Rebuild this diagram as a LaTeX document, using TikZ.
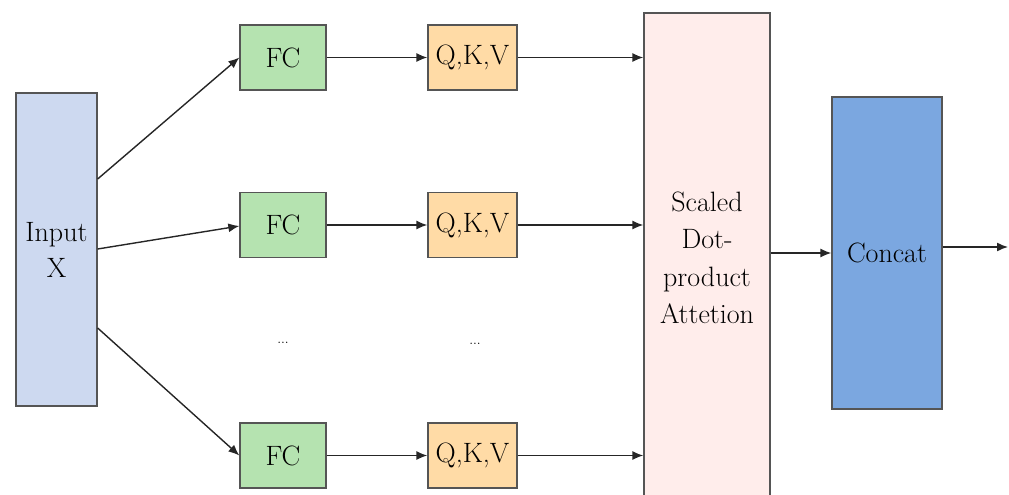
\documentclass[tikz,border=0pt]{standalone}
\usepackage{tikz}
\usetikzlibrary{arrows.meta,positioning,calc}

\definecolor{inblue}{HTML}{CDD9F0}
\definecolor{fcgreen}{HTML}{B5E3B0}
\definecolor{qkvorange}{HTML}{FFDBA6}
\definecolor{attpink}{HTML}{FFEDEB}
\definecolor{catblue}{HTML}{7BA7E0}
\definecolor{edgegray}{HTML}{555555}

\begin{document}
\begin{tikzpicture}[x=1pt,y=-1pt,
  box/.style={draw=edgegray,line width=1.3pt,inner sep=0pt,align=center,
    font=\fontsize{28}{36}\selectfont},
  fcbox/.style={box,fill=fcgreen,minimum width=86pt,minimum height=65pt},
  qkvbox/.style={box,fill=qkvorange,minimum width=89pt,minimum height=65pt},
  link/.style={line width=1.4pt,draw=black!85,-{Latex[length=11pt,width=9pt]}}]
  \clip (0,0) rectangle (1009,495);

  \node[box,fill=inblue,minimum width=81pt,minimum height=313pt] (inp) at (56.5,249.5) {Input\\X};
  \node[box,fill=attpink,minimum width=126pt,minimum height=490pt,
    font=\fontsize{28}{37.5}\selectfont] (att) at (707,258) {Scaled\\Dot-\\product\\Attetion};
  \node[box,fill=catblue,minimum width=110pt,minimum height=312pt] (cat) at (887,253) {Concat};

  % three heads
  \foreach \i/\y in {1/57.5,2/225,3/455.5} {
    \node[fcbox] (fc\i) at (283,\y) {FC};
    \node[qkvbox] (qkv\i) at (472.5,\y) {Q,K,V};
    \draw[link] (fc\i) -- (qkv\i);
    \draw[link] (qkv\i) -- (att.west |- qkv\i);
  }
  \node[font=\fontsize{14}{16}\selectfont] (dots1) at (283,343) {...};
  \node[font=\fontsize{14}{16}\selectfont] (dots2) at (475,344) {...};

  \draw[link] ([yshift=70.5pt]inp.east) -- (fc1.west);
  \draw[link] ([yshift=0.5pt]inp.east) -- ([yshift=-1pt]fc2.west);
  \draw[link] ([yshift=-78.5pt]inp.east) -- (fc3.west);

  \draw[link] (att.east |- cat.west) -- (cat.west);
  \coordinate (out) at (1008,247);
  \draw[link] (cat.east |- out) -- (out);
\end{tikzpicture}
\end{document}
